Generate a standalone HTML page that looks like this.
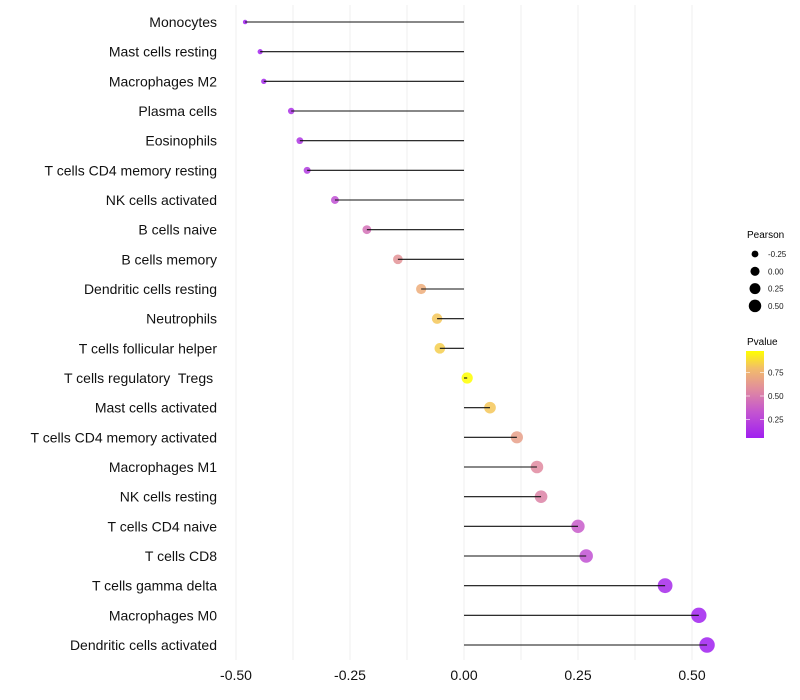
<!DOCTYPE html>
<html><head><meta charset="utf-8"><style>
body{margin:0;background:#fff;}
svg{display:block;font-family:"Liberation Sans",sans-serif;}
text{white-space:pre;}
</style></head><body>
<svg id="chart" width="800" height="700">
<defs><linearGradient id="pg" x1="0" y1="1" x2="0" y2="0">
<stop offset="0" stop-color="#a020f0"/><stop offset="0.3" stop-color="#c455d0"/><stop offset="0.55" stop-color="#e08aa0"/><stop offset="0.8" stop-color="#f2bd6a"/><stop offset="1" stop-color="#ffff00"/></linearGradient></defs>
<g id="grid"></g>
<g id="marks"></g>
<g id="labels"></g>
<g id="xt"></g>
<g id="sl">
<text x="747" y="238" font-size="10">Pearson</text>
</g>
<g id="cl">
<text x="747" y="345" font-size="10">Pvalue</text>
<rect x="746" y="351" width="18" height="87" fill="url(#pg)"/>
</g>
</svg>
<script>
const categories=["Monocytes","Mast cells resting","Macrophages M2","Plasma cells","Eosinophils","T cells CD4 memory resting","NK cells activated","B cells naive","B cells memory","Dendritic cells resting","Neutrophils","T cells follicular helper","T cells regulatory  Tregs ","Mast cells activated","T cells CD4 memory activated","Macrophages M1","NK cells resting","T cells CD4 naive","T cells CD8","T cells gamma delta","Macrophages M0","Dendritic cells activated"];
const pearson=[-0.48,-0.447,-0.439,-0.379,-0.36,-0.344,-0.283,-0.213,-0.145,-0.094,-0.059,-0.053,0.007,0.057,0.116,0.16,0.169,0.25,0.268,0.441,0.515,0.533];
const pvalue=[0.05,0.07,0.09,0.14,0.16,0.19,0.3,0.45,0.6,0.72,0.82,0.84,0.98,0.82,0.66,0.56,0.53,0.36,0.31,0.1,0.06,0.05];
const xTicks=[-0.5,-0.25,0,0.25,0.5];
const xTickLabels=["-0.50","-0.25","0.00","0.25","0.50"];
const sizeLegend=[-0.25,0,0.25,0.5];
const sizeLegendLabels=["-0.25","0.00","0.25","0.50"];
const colorTicks=[0.25,0.5,0.75];
const colorTickLabels=["0.25","0.50","0.75"];
const NS="http://www.w3.org/2000/svg";
const X=v=>464+v*456;
const Y=i=>22+i*(623/21);
const R=v=>Math.sqrt(Math.max(1,5+(v+0.48)*54));
const stops=[[0.05,[160,32,240]],[0.33,[196,85,208]],[0.56,[224,138,160]],[0.79,[242,189,106]],[0.98,[255,255,0]]];
function col(p){for(let k=0;k<stops.length-1;k++){const[a,ca]=stops[k],[b,cb]=stops[k+1];if(p<=b||k==stops.length-2){let t=Math.min(1,Math.max(0,(p-a)/(b-a)));return `rgb(${ca.map((c,j)=>Math.round(c+(cb[j]-c)*t)).join(',')})`;}}}
function mk(tag,attrs,parent,txt){const e=document.createElementNS(NS,tag);for(const k in attrs)e.setAttribute(k,attrs[k]);if(txt!==undefined)e.textContent=txt;parent.appendChild(e);return e;}
const grid=document.getElementById('grid'),marks=document.getElementById('marks'),labels=document.getElementById('labels'),xt=document.getElementById('xt');
for(let v=-0.5;v<=0.5001;v+=0.125){const l=mk('line',{x1:X(v),x2:X(v),y1:5,y2:660,stroke:'#efefef','stroke-width':1},grid);

}
categories.forEach((c,i)=>{
const t=mk('text',{x:217,y:Y(i)+5,'font-size':14,'text-anchor':'end',fill:'#111'},labels,c);


const d=mk('circle',{cx:X(pearson[i]),cy:Y(i),r:R(pearson[i]),fill:col(pvalue[i]),'fill-opacity':0.85},marks);


const s=mk('line',{x1:X(0),x2:X(pearson[i]),y1:Y(i),y2:Y(i),stroke:'#111','stroke-width':1.1},marks);


});
xTicks.forEach((v,i)=>{const t=mk('text',{x:X(v),y:680,'font-size':14,'text-anchor':'middle',fill:'#111'},xt,xTickLabels[i]);

});
const sl=document.getElementById('sl');
sizeLegend.forEach((v,i)=>{const c=mk('circle',{cx:755,cy:254+i*17.3,r:R(v)*0.82,fill:'#000'},sl);


const t=mk('text',{x:768,y:257+i*17.3,'font-size':8,fill:'#1a1a1a'},sl,sizeLegendLabels[i]);

});
const cl=document.getElementById('cl');
colorTicks.forEach((v,i)=>{const y=443-v*94;
const t=mk('text',{x:768,y:y+3,'font-size':8,fill:'#1a1a1a'},cl,colorTickLabels[i]);


const l=mk('line',{x1:746,x2:750,y1:y,y2:y,stroke:'#fff','stroke-width':0.6},cl);


const l2=mk('line',{x1:760,x2:764,y1:y,y2:y,stroke:'#fff','stroke-width':0.6},cl);

});
</script>
</body></html>
